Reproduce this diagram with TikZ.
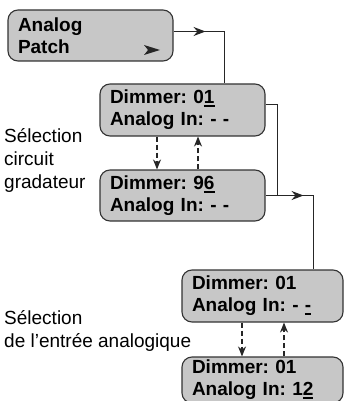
\documentclass[tikz,border=0pt]{standalone}
\usepackage{fontspec}
\setmainfont{Liberation Sans}
\usetikzlibrary{arrows.meta,decorations.markings}
\frenchspacing
\newcommand{\curs}[1]{\setbox0\hbox{#1}\rlap{\vrule width\wd0 height -1.4pt depth 3.4pt}\box0}

\begin{document}
\begin{tikzpicture}[x=1pt,y=-1pt,
  screen/.style={draw=black!80,fill=black!22,rounded corners=10pt,line width=1.1pt,
    minimum height=52pt,inner xsep=10pt,inner ysep=0pt,align=left,
    font=\fontsize{19}{22}\selectfont\bfseries},
  note/.style={anchor=west,align=left,inner sep=0pt,font=\fontsize{19}{23}\selectfont},
  flow/.style={draw=black!85,line width=1pt},
  flowtip/.style={flow,postaction={decorate},
    decoration={markings,mark=at position #1 with {\arrow{Stealth[length=12pt,width=9pt]}}}},
  swap/.style={draw=black!85,line width=1.1pt,dash pattern=on 5pt off 3pt,
    -{Stealth[length=10pt,width=8pt]}}]
\useasboundingbox (0,0) rectangle (344,401);
\node [screen,text width=145pt,minimum height=51pt] (patch) at (90.5,35.5) {Analog\\Patch};
\fill [black!85] (144,45) -- (160,50) -- (144,55) -- (148,50) -- cycle;
\node [screen,text width=145pt] (dimA) at (182.5,110) {Dimmer: 0\curs{1}\\Analog In: - -};
\node [screen,text width=145pt,minimum height=51pt] (dimB) at (182.5,195.5) {Dimmer: 9\curs{6}\\Analog In: - -};
\node [screen,text width=141pt] (inA) at (262.5,296) {Dimmer: 01\\Analog In: - \curs{-}};
\node [screen,text width=141pt,minimum height=46pt] (inB) at (262.5,380) {Dimmer: 01\\Analog In: 1\curs{2}};
\node [note] (selDim) at (4,160) {Sélection\\circuit\\gradateur};
\node [note] (selIn) at (4,331) {Sélection\\de l’entrée analogique};
\coordinate (join) at (277,195.5);
\draw [flowtip=32pt] ([yshift=4pt]patch.east) -| ([xshift=41.5pt]dimA.north);
\draw [flow] ([yshift=5pt]dimA.east) -| (join);
\draw [flowtip=38pt] (dimB.east) -| ([xshift=50.5pt]inA.north);
\draw [swap] ([xshift=-25.5pt]dimA.south) -- ([xshift=-25.5pt]dimB.north);
\draw [swap] ([xshift=15.5pt]dimB.north) -- ([xshift=15.5pt]dimA.south);
\draw [swap] ([xshift=-20.5pt]inA.south) -- ([xshift=-20.5pt]inB.north);
\draw [swap] ([xshift=21.5pt]inB.north) -- ([xshift=21.5pt]inA.south);
\end{tikzpicture}
\end{document}
